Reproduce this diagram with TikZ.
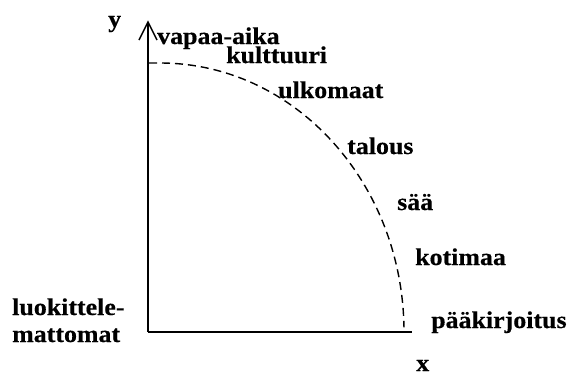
\documentclass[tikz,border=0pt]{standalone}
\usepackage{fontspec}
\setmainfont{Liberation Serif}[FakeStretch=1.08,FakeBold=0.4]
\begin{document}
\begin{tikzpicture}[x=1pt,y=-1pt,
  lbl/.style={anchor=base west,inner sep=0pt,font=\fontsize{24}{28}\selectfont\bfseries},
  axis/.style={line width=1.8pt},
  curve/.style={line width=1.4pt,dash pattern=on 8pt off 5pt}]
\useasboundingbox (0,0) rectangle (570,376);
\coordinate (o) at (148,332);
\coordinate (ytop) at (148,22);
\coordinate (xend) at (412,332);
\draw[axis] (o) -- (xend);
\draw[axis] (o) -- (ytop);
\draw[line width=1.5pt] (139,40) -- (ytop) -- (157,40);
\draw[curve] (149,63) -- (160,63) arc[start angle=90,end angle=1,x radius=244pt,y radius=269pt];
\node[lbl] (ly) at (108,27) {y};
\node[lbl] (l1) at (157,44) {vapaa-aika};
\node[lbl] (l2) at (226,63) {kulttuuri};
\node[lbl] (l3) at (278,98) {ulkomaat};
\node[lbl] (l4) at (347,154) {talous};
\node[lbl] (l5) at (397,210) {sää};
\node[lbl] (l6) at (415,265) {kotimaa};
\node[lbl] (l7) at (431,328) {pääkirjoitus};
\node[lbl] (lx) at (416,371) {x};
\node[lbl] (l8) at (12,315) {luokittele-};
\node[lbl] (l9) at (12,342) {mattomat};
\end{tikzpicture}
\end{document}
